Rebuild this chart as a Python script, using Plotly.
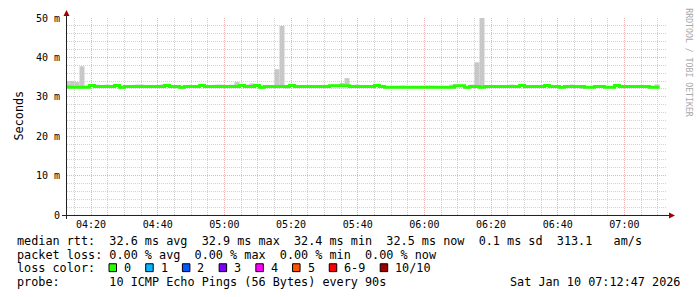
import plotly.graph_objects as go
import pandas as pd

# ---------------- data ----------------
start_time = "2026-01-10 04:12:47"
end_time = "2026-01-10 07:12:47"
step_seconds = 90

median_ms = [
    32.5, 32.4, 32.4, 32.4, 32.4, 32.85, 32.6, 32.6, 32.6, 32.6,      # 0-9
    32.85, 32.45, 32.6, 32.6, 32.6, 32.6, 32.6, 32.6, 32.6, 32.6,     # 10-19
    32.85, 32.6, 32.6, 32.45, 32.6, 32.6, 32.6, 32.85, 32.6, 32.6,    # 20-29
    32.6, 32.6, 32.6, 32.6, 32.6, 32.85, 32.6, 32.6, 32.85, 32.45,    # 30-39
    32.6, 32.6, 32.6, 32.6, 32.6, 32.85, 32.6, 32.6, 32.6, 32.6,      # 40-49
    32.6, 32.6, 32.6, 32.8, 32.8, 32.8, 32.8, 32.6, 32.6, 32.6,       # 50-59
    32.6, 32.6, 32.85, 32.6, 32.4, 32.4, 32.4, 32.4, 32.4, 32.4,      # 60-69
    32.4, 32.4, 32.4, 32.4, 32.4, 32.4, 32.4, 32.4, 32.8, 32.8,       # 70-79
    32.45, 32.6, 32.6, 32.45, 32.6, 32.6, 32.6, 32.6, 32.6, 32.6,     # 80-89
    32.6, 32.85, 32.6, 32.6, 32.6, 32.6, 32.85, 32.6, 32.6, 32.45,    # 90-99
    32.6, 32.6, 32.6, 32.6, 32.45, 32.45, 32.6, 32.6, 32.45, 32.45,   # 100-109
    32.85, 32.6, 32.6, 32.6, 32.6, 32.6, 32.6, 32.45, 32.45,          # 110-118
]

smoke_max_ms = [
    34.0, 34.0, 33.75, 37.75, 32.55, 33.1, 33.1, 32.75, 33.1, 32.75,
    33.0, 32.6, 32.75, 32.75, 33.1, 33.1, 32.75, 32.75, 32.75, 33.1,
    33.0, 32.75, 32.75, 32.6, 32.75, 32.75, 32.75, 33.1, 32.75, 32.75,
    33.1, 33.1, 32.75, 33.1, 33.75, 33.0, 33.1, 33.4, 33.0, 32.6,
    32.75, 32.75, 37.0, 48.0, 32.75, 33.0, 33.0, 33.0, 32.75, 32.75,
    32.75, 32.75, 33.0, 33.1, 33.1, 33.5, 34.75, 32.75, 33.1, 32.75,
    32.75, 32.75, 33.1, 32.75, 32.55, 32.55, 32.55, 32.8, 32.55, 32.55,
    32.55, 32.55, 32.8, 32.8, 32.55, 32.55, 32.55, 33.1, 33.1, 33.1,
    32.6, 33.1, 38.75, 50.0, 32.75, 32.75, 32.75, 33.0, 33.0, 33.1,
    32.75, 33.0, 32.75, 32.75, 32.75, 32.75, 33.0, 32.75, 32.75, 32.6,
    32.75, 33.1, 32.75, 32.75, 32.6, 32.6, 32.75, 32.75, 32.6, 32.6,
    33.0, 32.75, 32.9, 32.9, 32.9, 32.9, 32.75, 32.6, 33.1,
]

smoke_min_ms = [
    32.3, 32.2, 32.2, 32.2, 32.2, 32.6, 32.4, 32.4, 32.4, 32.4,
    32.6, 31.95, 32.4, 32.4, 32.4, 32.4, 32.4, 32.4, 32.4, 32.4,
    32.6, 32.4, 32.4, 31.95, 32.4, 32.4, 32.4, 32.6, 32.4, 32.4,
    32.4, 32.4, 32.4, 32.4, 32.4, 32.6, 32.4, 32.4, 32.6, 31.95,
    32.4, 32.4, 32.4, 32.4, 32.1, 32.6, 32.4, 32.4, 32.4, 32.4,
    32.4, 32.4, 32.4, 32.5, 32.5, 32.5, 32.5, 32.4, 32.4, 32.4,
    32.4, 32.4, 32.6, 32.4, 32.2, 32.2, 32.2, 32.2, 32.2, 32.2,
    32.2, 32.2, 32.2, 32.2, 32.2, 32.2, 32.2, 32.2, 32.5, 32.5,
    31.95, 32.4, 32.4, 32.25, 32.4, 32.4, 32.4, 32.4, 32.4, 32.4,
    32.4, 32.6, 32.4, 32.4, 32.4, 32.4, 32.6, 32.4, 32.4, 32.25,
    32.4, 32.4, 32.4, 32.0, 32.25, 32.25, 32.4, 32.4, 32.25, 32.25,
    32.6, 32.4, 32.4, 32.4, 32.4, 32.4, 32.4, 32.25, 32.25,
]

y_tick_values = [0, 10, 20, 30, 40, 50]
y_tick_labels = ["0", "10 m", "20 m", "30 m", "40 m", "50 m"]

stat_median = {"avg": "32.6", "max": "32.9", "min": "32.4", "now": "32.5", "sd": "0.1", "ams": "313.1"}
stat_loss = {"avg": "0.00", "max": "0.00", "min": "0.00", "now": "0.00"}
loss_labels = ["0", "1", "2", "3", "4", "5", "6-9", "10/10"]
loss_colors = ["#26ff00", "#00b8ff", "#0059ff", "#7e00ff", "#ff00ff", "#ff5500", "#ff0000", "#a10000"]
probe_text = "10 ICMP Echo Pings (56 Bytes) every 90s"
stamp_text = "Sat Jan 10 07:12:47 2026"

# ---------------- layout constants ----------------
W, H = 697, 297
L, R, T, B = 67, 30, 15, 82
PW, PH = W - L - R, H - T - B
MONO = "DejaVu Sans Mono"
CW = 7.11  # monospace char width at legend font size


def px(x):
    return (x - L) / PW


def py(y):
    return (H - B - y) / PH


def nb(s):
    return s.replace(" ", "\u00a0")


step = pd.Timedelta(seconds=step_seconds)
times = pd.date_range(start_time, periods=len(median_ms), freq=f"{step_seconds}s")

fig = go.Figure()

# smoke (min..max per sample)
fig.add_bar(
    x=times,
    base=smoke_min_ms,
    y=[hi - lo for hi, lo in zip(smoke_max_ms, smoke_min_ms)],
    width=step.total_seconds() * 1000,
    marker=dict(color="#c8c8c8", line=dict(width=0)),
    hoverinfo="skip",
)

# median rtt step line
edges = list(times - step / 2) + [times[-1] + step / 2]
fig.add_scatter(
    x=edges,
    y=median_ms + [median_ms[-1]],
    mode="lines",
    line=dict(color="#26ff00", width=3, shape="hv"),
    hoverinfo="skip",
)

major_grid = "#ecb4b4"
minor_grid = "#d2d2d2"
dots = "1px,1px"

fig.update_layout(
    width=W, height=H,
    margin=dict(l=L, r=R, t=T, b=B, pad=0),
    paper_bgcolor="white", plot_bgcolor="white",
    showlegend=False,
    barmode="overlay",
    xaxis=dict(
        type="date",
        range=[start_time, end_time],
        tick0="2026-01-10 04:20:00",
        dtick=20 * 60 * 1000,
        tickformat="%H:%M",
        showgrid=True, gridcolor=major_grid, gridwidth=1, griddash=dots,
        minor=dict(dtick=5 * 60 * 1000, showgrid=True, gridcolor=minor_grid, griddash=dots, gridwidth=1),
        ticks="outside", ticklen=0, tickcolor="rgba(0,0,0,0)",
        tickfont=dict(family=MONO, size=10, color="#000"),
        zeroline=False, showline=False, fixedrange=True,
    ),
    yaxis=dict(
        range=[0, 50],
        tickmode="array", tickvals=y_tick_values, ticktext=y_tick_labels,
        showgrid=True, gridcolor=major_grid, gridwidth=1, griddash=dots,
        minor=dict(tickmode="array",
                   tickvals=[v for v in range(2, 50, 2) if v % 10],
                   showgrid=True, gridcolor=minor_grid, griddash=dots, gridwidth=1),
        ticks="outside", ticklen=4, tickcolor="rgba(0,0,0,0)",
        tickfont=dict(family=MONO, size=10, color="#000"),
        zeroline=False, showline=False, fixedrange=True,
    ),
)

shapes = []
axis_color = "#202020"
arrow_color = "#a00000"
# x axis line with overhang + arrow
shapes.append(dict(type="line", xref="paper", yref="paper",
                   x0=px(62), x1=px(670), y0=py(215.5), y1=py(215.5),
                   line=dict(color=axis_color, width=1)))
shapes.append(dict(type="path", xref="paper", yref="paper",
                   path=f"M{px(669)},{py(212.5)} L{px(675)},{py(215.5)} L{px(669)},{py(218.5)} Z",
                   fillcolor=arrow_color, line=dict(width=0)))
# y axis line with overhang + arrow
shapes.append(dict(type="line", xref="paper", yref="paper",
                   x0=px(66.5), x1=px(66.5), y0=py(219), y1=py(10),
                   line=dict(color=axis_color, width=1)))
shapes.append(dict(type="path", xref="paper", yref="paper",
                   path=f"M{px(63.5)},{py(13)} L{px(66.5)},{py(7)} L{px(69.5)},{py(13)} Z",
                   fillcolor=arrow_color, line=dict(width=0)))

annotations = []


def text(x, y, s, size=11.8, anchor="left", color="#000", angle=0):
    annotations.append(dict(
        xref="paper", yref="paper", x=px(x), y=py(y), text=nb(s),
        showarrow=False, xanchor=anchor, yanchor="middle", textangle=angle,
        font=dict(family=MONO, size=size, color=color), borderpad=0,
    ))


m = stat_median
row1 = (f"median rtt:  {m['avg']} ms avg  {m['max']} ms max  {m['min']} ms min  "
        f"{m['now']} ms now  {m['sd']} ms sd  {m['ams']}   am/s")
p = stat_loss
row2 = f"packet loss: {p['avg']} % avg  {p['max']} % max  {p['min']} % min  {p['now']} % now"
text(16, 241.5, row1)
text(16, 255.5, row2)
text(16, 269, "loss color:")
text(16, 283, "probe:       " + probe_text)
text(681, 283, stamp_text, anchor="right")

bx = 109.0
for lab, col in zip(loss_labels, loss_colors):
    shapes.append(dict(type="rect", xref="paper", yref="paper",
                       x0=px(bx), x1=px(bx + 7.5), y0=py(264.5), y1=py(272.5),
                       fillcolor=col, line=dict(color="#000", width=1)))
    text(bx + 14, 269, lab)
    bx += 29.6 + CW * len(lab)

text(11, 114, "Seconds", angle=-90)
text(689, 60, "RRDTOOL / TOBI OETIKER", size=8.2, color="#a8a8a8", anchor="center", angle=90)

fig.update_layout(shapes=shapes, annotations=annotations)

fig.write_html("out.html", config={"displayModeBar": False, "staticPlot": True})
